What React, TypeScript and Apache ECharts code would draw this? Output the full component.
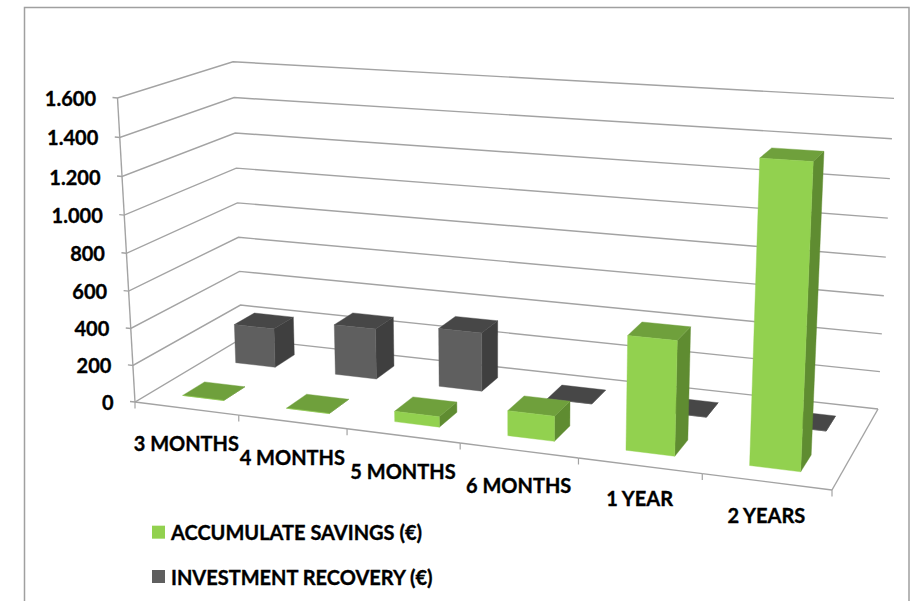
import React, { useEffect, useRef } from "react";
import * as echarts from "echarts";

const categories = ["3 MONTHS", "4 MONTHS", "5 MONTHS", "6 MONTHS", "1 YEAR", "2 YEARS"];
const savings = [0, 0, 55, 130, 578, 1477];
const recovery = [220, 280, 320, 0, 0, 0];
const yTicks = [0, 200, 400, 600, 800, 1000, 1200, 1400, 1600];
const yTickLabels = ["0", "200", "400", "600", "800", "1.000", "1.200", "1.400", "1.600"];
const seriesNames = ["ACCUMULATE SAVINGS (€)", "INVESTMENT RECOVERY (€)"];

const FONT = "Lato";
const FONT_SIZE = 20;
const TEXT_WEIGHT_STROKE = 0.35;
const LINE = "#a3a3a3";
const GREEN = { front: "#92d14f", top: "#6fa03c", side: "#5f8c31" };
const GRAY = { front: "#5f5f5f", top: "#474747", side: "#3f3f3f" };
const LABEL_DROP = [35, 35, 35, 35, 32, 33.5];

// Hidden cartesian frame: its scales give normalised positions, which the view projection then maps to the page.
const FRAME = { left: 0, top: 0, width: 900, height: 600 };

// Picture of the 3D box: floor corners and wall tops.
const A = [135, 402];
const B = [832, 490];
const C = [241.5, 338.5];
const D = [878, 409];
const T0 = [117.5, 98];
const T2 = [894, 101.7];
const BACK_LEAN = 3;

const dx1 = B[0] - D[0], dx2 = C[0] - D[0], sx = A[0] - B[0] + D[0] - C[0];
const dy1 = B[1] - D[1], dy2 = C[1] - D[1], sy = A[1] - B[1] + D[1] - C[1];
const det = dx1 * dy2 - dx2 * dy1;
const m = (sx * dy2 - dx2 * sy) / det;
const n = (dx1 * sy - sx * dy1) / det;
const a = B[0] - A[0] + m * B[0];
const b = C[0] - A[0] + n * C[0];
const e = B[1] - A[1] + m * B[1];
const f = C[1] - A[1] + n * C[1];
const wD = 1 + m + n;
const q = ((T0[0] - A[0]) - wD * (T2[0] - D[0])) / (T2[0] - T0[0]);
const d = T0[0] - A[0] + T0[0] * q;
const h = T0[1] - A[1] + T0[1] * q;

function project(u: number, v: number, t: number): number[] {
  const w = 1 + m * u + n * v + q * t;
  return [
    (a * u + b * v + A[0] + d * t) / w + BACK_LEAN * t * v * (1 - u),
    (e * u + f * v + A[1] + h * t) / w,
  ];
}

const toU = (px: number) => (px - FRAME.left) / FRAME.width;
const toT = (py: number) => (FRAME.top + FRAME.height - py) / FRAME.height;

function wallItem(params: any, api: any) {
  const idx = params.dataIndex;
  const t = toT(api.coord([0, api.value(1)])[1]);
  const p0 = project(0, 0, t);
  const p1 = project(0, 1, t);
  const p2 = project(1, 1, t);
  const children: any[] = [
    {
      type: "polyline",
      shape: { points: [[p0[0] - 5, p0[1] - 0.5], p0, p1, p2] },
      style: { stroke: LINE, lineWidth: 1.4, fill: "none" },
    },
    {
      type: "text",
      style: {
        text: yTickLabels[idx],
        x: p0[0] - 21.5,
        y: p0[1],
        textAlign: "right",
        textVerticalAlign: "middle",
        fontFamily: FONT,
        fontWeight: "bold",
        fontSize: FONT_SIZE,
        fill: "#000",
        stroke: "#000",
        lineWidth: TEXT_WEIGHT_STROKE,
      },
    },
  ];
  if (idx === yTicks.length - 1) {
    children.push({
      type: "line",
      shape: { x1: project(0, 0, 0)[0], y1: project(0, 0, 0)[1], x2: p0[0], y2: p0[1] },
      style: { stroke: LINE, lineWidth: 1.4 },
    });
  }
  return { type: "group", children };
}

function floorItem(params: any, api: any) {
  const idx = params.dataIndex;
  const c = api.coord([idx, 0]);
  const band = api.size([1, 0])[0] / FRAME.width;
  const uc = toU(c[0]);
  const u0 = uc - band / 2;
  const u1 = uc + band / 2;
  const p0 = project(u0, 0, 0);
  const p1 = project(u1, 0, 0);
  const mid = project(uc, 0, 0);
  const children: any[] = [
    { type: "line", shape: { x1: p0[0], y1: p0[1], x2: p1[0], y2: p1[1] }, style: { stroke: LINE, lineWidth: 1.4 } },
    { type: "line", shape: { x1: p0[0], y1: p0[1], x2: p0[0], y2: p0[1] + 6.5 }, style: { stroke: LINE, lineWidth: 1.2 } },
    {
      type: "text",
      style: {
        text: categories[idx],
        x: mid[0],
        y: mid[1] + LABEL_DROP[idx],
        textAlign: "center",
        textVerticalAlign: "middle",
        fontFamily: FONT,
        fontWeight: "bold",
        fontSize: FONT_SIZE,
        fill: "#000",
        stroke: "#000",
        lineWidth: TEXT_WEIGHT_STROKE,
      },
    },
  ];
  if (idx === categories.length - 1) {
    const back = project(1, 1, 0);
    children.push(
      { type: "line", shape: { x1: p1[0], y1: p1[1], x2: p1[0], y2: p1[1] + 6.5 }, style: { stroke: LINE, lineWidth: 1.2 } },
      { type: "line", shape: { x1: p1[0], y1: p1[1], x2: back[0], y2: back[1] }, style: { stroke: LINE, lineWidth: 1.4 } },
    );
  }
  return { type: "group", children };
}

function barItem(v0: number, v1: number, colors: { front: string; top: string; side: string }) {
  return (params: any, api: any) => {
    const idx = params.dataIndex;
    const c = api.coord([idx, api.value(1)]);
    const band = api.size([1, 0])[0] / FRAME.width;
    const t = toT(c[1]);
    const uc = toU(c[0]);
    const u0 = uc - band * 0.2;
    const u1 = uc + band * 0.2;
    const poly = (points: number[][], fill: string) => ({
      type: "polygon",
      shape: { points },
      style: { fill, stroke: fill, lineWidth: 0.4 },
    });
    const children = [
      poly([project(u1, v0, 0), project(u1, v1, 0), project(u1, v1, t), project(u1, v0, t)], colors.side),
      poly([project(u0, v0, t), project(u1, v0, t), project(u1, v1, t), project(u0, v1, t)], colors.top),
      poly([project(u0, v0, 0), project(u1, v0, 0), project(u1, v0, t), project(u0, v0, t)], colors.front),
    ];
    return { type: "group", children };
  };
}

export default function App() {
  const ref = useRef<HTMLDivElement>(null);
  useEffect(() => {
    const chart = echarts.init(ref.current!, null, { renderer: "svg" });
    chart.setOption({
      animation: false,
      backgroundColor: "#fff",
      grid: { ...FRAME, containLabel: false, show: false },
      xAxis: { type: "category", data: categories, show: false },
      yAxis: { type: "value", min: 0, max: 1600, interval: 200, show: false },
      legend: {
        orient: "vertical",
        left: 147,
        top: 517,
        itemWidth: 13,
        itemHeight: 13,
        itemGap: 24,
        selectedMode: false,
        data: [
          { name: seriesNames[0], icon: "rect", itemStyle: { color: GREEN.front } },
          { name: seriesNames[1], icon: "rect", itemStyle: { color: GRAY.front } },
        ],
        textStyle: {
          fontFamily: FONT,
          fontWeight: "bold",
          fontSize: FONT_SIZE,
          color: "#000",
          padding: [0, 0, 0, 1],
          textBorderColor: "#000",
          textBorderWidth: TEXT_WEIGHT_STROKE,
        },
      },
      graphic: [
        {
          type: "polyline",
          shape: { points: [[24.5, 601], [24.5, 7.5], [909, 7.5], [909, 601]] },
          style: { stroke: "#a0a0a0", lineWidth: 1.5, fill: "none" },
        },
      ],
      series: [
        { type: "custom", name: "walls", silent: true, renderItem: wallItem, data: yTicks.map((v) => [0, v]) },
        { type: "custom", name: "floor", silent: true, renderItem: floorItem, data: categories.map((_, i) => [i, 0]) },
        {
          type: "custom",
          name: seriesNames[1],
          silent: true,
          itemStyle: { color: GRAY.front },
          renderItem: barItem(0.65, 0.85, GRAY),
          data: recovery.map((v, i) => [i, v]),
        },
        {
          type: "custom",
          name: seriesNames[0],
          silent: true,
          itemStyle: { color: GREEN.front },
          renderItem: barItem(0.15, 0.35, GREEN),
          data: savings.map((v, i) => [i, v]),
        },
      ],
    });
    return () => chart.dispose();
  }, []);
  return <div ref={ref} style={{ position: "fixed", left: 0, top: 0, width: 915, height: 601 }} />;
}
